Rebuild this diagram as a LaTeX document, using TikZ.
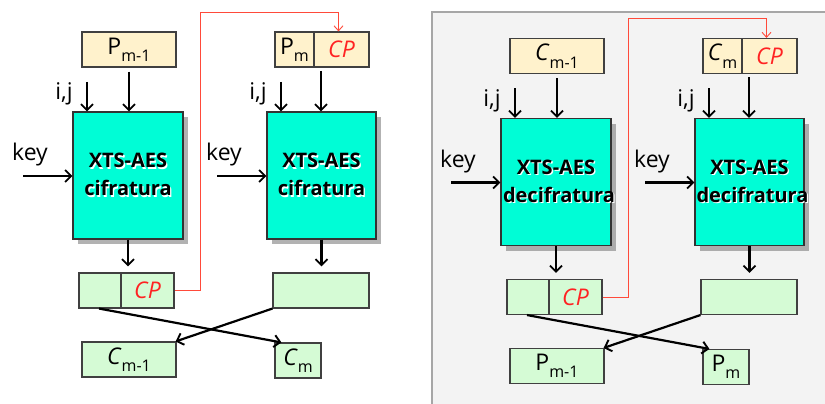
\documentclass[tikz,border=0pt]{standalone}
\usepackage{fontspec}
\setmainfont{Open Sans}
\usetikzlibrary{arrows.meta,shadows,calc}
\definecolor{beige}{HTML}{FFF2CC}
\definecolor{mint}{HTML}{D5FBD5}
\definecolor{aqua}{HTML}{00FDD6}
\definecolor{panelbg}{HTML}{F3F3F3}
\definecolor{cpred}{HTML}{FF2222}
\definecolor{fbred}{HTML}{FF4A3A}
\newcommand\sbs[1]{\raisebox{-0.32em}{\fontsize{16}{16}\selectfont #1}}
\newcommand\glowtxt[1]{\makebox[0pt][l]{\hspace{1.3pt}\raisebox{-1.3pt}{\color{white}#1}}#1}
\tikzset{
  box/.style={draw=black!75, line width=1.1pt, minimum height=35pt, inner sep=0pt,
    font=\fontsize{23}{26}\selectfont},
  inbox/.style={box, fill=beige},
  outbox/.style={box, fill=mint},
  cipher/.style={draw=black!80, line width=1.1pt, fill=aqua, minimum width=110pt,
    minimum height=127pt, inner sep=0pt, align=center, text width=106pt,
    font=\bfseries\fontsize{20}{28}\selectfont,
    drop shadow={shadow xshift=5pt, shadow yshift=-5pt, fill=black!55, opacity=.55}},
  flow/.style={-{Straight Barb[length=6pt,width=12pt,line width=1.9pt]}, line width=2.2pt},
  fb/.style={draw=fbred, line width=0.9pt, -{Straight Barb[length=5pt,width=9pt,line width=0.9pt]}},
  lbl/.style={font=\fontsize{23}{26}\selectfont, inner sep=0pt},
}
\newcommand\xtshalf[5]{%
  \node[inbox, minimum width=94pt] (top1) at (129,49.5) {#1};
  \node[inbox, minimum width=39pt] (top2a) at (294.5,49.5) {#2};
  \node[inbox, minimum width=55pt, text=cpred] (top2b) at (341.5,49.5) {\textit{CP}};
  \node[cipher] (enc1) at (128,175.5) {\glowtxt{XTS-AES}\\\glowtxt{#3}};
  \node[cipher, minimum width=109pt] (enc2) at (321.5,175.5) {\glowtxt{XTS-AES}\\\glowtxt{#3}};
  \node[outbox, minimum width=42pt] (mid1a) at (100,290.5) {};
  \node[outbox, minimum width=53pt, text=cpred] (mid1b) at (147.5,290.5) {\textit{CP}};
  \node[outbox, minimum width=96pt] (mid2) at (321,290.5) {};
  \node[outbox, minimum width=94pt] (out1) at (129,359.5) {#4};
  \node[outbox, minimum width=46pt] (out2) at (298,360.5) {#5};
  \node[lbl] (ijl1) at (64,94) {i,j};
  \node[lbl] (ijl2) at (258,94) {i,j};
  \node[lbl] (keyl1) at (30,155) {key};
  \node[lbl] (keyl2) at (224,155) {key};
  \coordinate (ij1) at (87,82);
  \coordinate (ij2) at (281,82);
  \coordinate (k1) at (23,176);
  \coordinate (k2) at (217,176);
  \coordinate (fbk) at (200,12);
  \coordinate (top2c) at (321,67);
  % inputs
  \draw[flow] ([yshift=-4pt]top1.south) -- (top1.south |- enc1.north);
  \draw[flow] ([yshift=-4pt]top2c) -- (top2c |- enc2.north);
  \draw[flow] (ij1) -- (ij1 |- enc1.north);
  \draw[flow] (ij2) -- (ij2 |- enc2.north);
  \draw[flow] (k1) -- (k1 -| enc1.west);
  \draw[flow] (k2) -- (k2 -| enc2.west);
  % outputs
  \draw[flow] (enc1.south) -- ([yshift=6pt]mid1a.north -| enc1.south);
  \draw[flow] (enc2.south) -- ([yshift=6pt]mid2.north -| enc2.south);
  \draw[flow] ([xshift=-1pt]mid1a.south) -- ([xshift=7pt]out2.north west);
  \draw[flow] (mid2.south west) -- ([xshift=-1pt]out1.north east);
  % feedback
  \draw[fb] (mid1b.east) -| (fbk) -| ([xshift=-3pt]top2b.north);
}
\begin{document}
\begin{tikzpicture}[x=1pt,y=-1pt]
  \useasboundingbox (0,0) rectangle (825,404);
  \clip (0,0) rectangle (825,404);
  \path[draw=black!35, line width=1.3pt, fill=panelbg] (432,12) rectangle (840,420);
  \begin{scope}[name prefix=L-]
    \xtshalf{P\sbs{m-1}}{P\sbs{m}}{cifratura}{\textit{C}\sbs{m-1}}{\textit{C}\sbs{m}}
  \end{scope}
  \begin{scope}[shift={(428,6.5)}, name prefix=R-]
    \xtshalf{\textit{C}\sbs{m-1}}{\textit{C}\sbs{m}}{decifratura}{P\sbs{m-1}}{P\sbs{m}}
  \end{scope}
\end{tikzpicture}
\end{document}
